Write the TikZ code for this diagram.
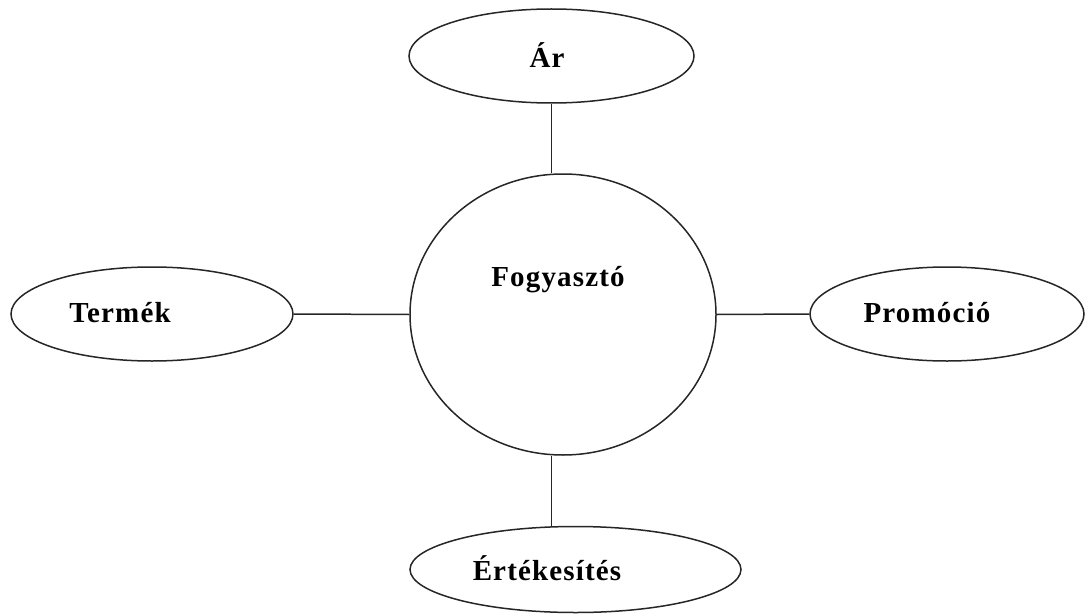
\documentclass[tikz,border=0pt]{standalone}
\usepackage{fontspec}
\setmainfont{Liberation Serif}[LetterSpace=4]
\usetikzlibrary{shapes.geometric}
\begin{document}
\begin{tikzpicture}[x=1pt,y=-1pt,
  shp/.style={draw=black!85,line width=1.5pt,ellipse,inner sep=0pt},
  lbl/.style={font=\fontsize{29}{33}\selectfont\bfseries,inner sep=0pt},
  con/.style={draw=black!85,line width=1.5pt}]
\useasboundingbox (0,0) rectangle (1086,615);
\node[shp,minimum width=306pt,minimum height=281pt] (fog) at (563,314.5) {};
\node[shp,minimum width=285pt,minimum height=94pt] (ar) at (551.5,56) {};
\node[shp,minimum width=282pt,minimum height=94pt] (term) at (152,314) {};
\node[shp,minimum width=274pt,minimum height=94pt] (prom) at (947,314) {};
\node[shp,minimum width=331pt,minimum height=86pt] (ert) at (575.5,569.5) {};
\node[lbl] (fogT) at (558,280) {Fogyasztó};
\node[lbl] (arT) at (547,55) {Ár};
\node[lbl] (termT) at (120,313) {Termék};
\node[lbl] (promT) at (927,313) {Promóció};
\node[lbl] (ertT) at (547,568) {Értékesítés};
\draw[con] (ar.south) -- (ar.south |- fog.north);
\draw[con] (ar.south |- fog.south) -- (ar.south |- ert.north);
\draw[con] (term.east) -- (fog.west);
\draw[con] (fog.east) -- (prom.west);
\end{tikzpicture}
\end{document}
